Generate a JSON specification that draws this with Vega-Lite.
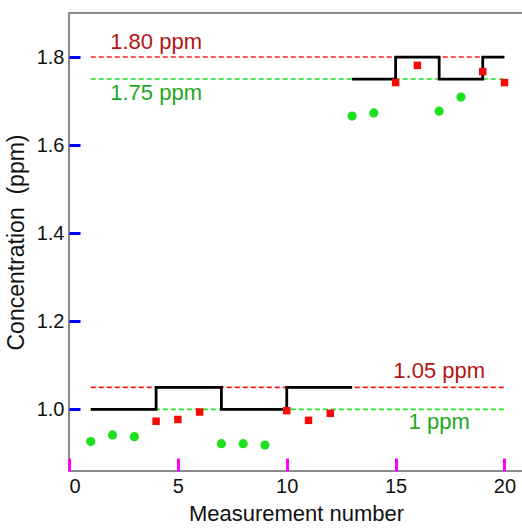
{
  "$schema": "https://vega.github.io/schema/vega-lite/v6.json",
  "autosize": "none",
  "padding": {"left": 69, "top": 13, "right": 0, "bottom": 57},
  "width": 454,
  "height": 458,
  "background": "white",
  "config": {
    "view": {"stroke": "#666666", "strokeWidth": 1.5},
    "font": "Liberation Sans",
    "axis": {"grid": false, "labelFont": "Liberation Sans", "titleFont": "Liberation Sans", "labelColor": "#111111", "titleColor": "#111111", "labelFontSize": 20, "titleFontSize": 22, "titleFontWeight": "normal"}
  },
  "datasets": {
    "points": [
      {"n": 1, "c": 0.927, "series": "a"},
      {"n": 2, "c": 0.942, "series": "a"},
      {"n": 3, "c": 0.938, "series": "a"},
      {"n": 4, "c": 0.973, "series": "b"},
      {"n": 5, "c": 0.977, "series": "b"},
      {"n": 6, "c": 0.994, "series": "b"},
      {"n": 7, "c": 0.922, "series": "a"},
      {"n": 8, "c": 0.922, "series": "a"},
      {"n": 9, "c": 0.919, "series": "a"},
      {"n": 10, "c": 0.997, "series": "b"},
      {"n": 11, "c": 0.975, "series": "b"},
      {"n": 12, "c": 0.991, "series": "b"},
      {"n": 13, "c": 1.666, "series": "a"},
      {"n": 14, "c": 1.673, "series": "a"},
      {"n": 15, "c": 1.742, "series": "b"},
      {"n": 16, "c": 1.781, "series": "b"},
      {"n": 17, "c": 1.677, "series": "a"},
      {"n": 18, "c": 1.709, "series": "a"},
      {"n": 19, "c": 1.767, "series": "b"},
      {"n": 20, "c": 1.742, "series": "b"}
    ],
    "steps": [
      {"n": 1, "c": 1.0, "seg": "low"},
      {"n": 4, "c": 1.05, "seg": "low"},
      {"n": 7, "c": 1.0, "seg": "low"},
      {"n": 10, "c": 1.05, "seg": "low"},
      {"n": 13, "c": 1.05, "seg": "low"},
      {"n": 13, "c": 1.75, "seg": "high"},
      {"n": 15, "c": 1.8, "seg": "high"},
      {"n": 17, "c": 1.75, "seg": "high"},
      {"n": 19, "c": 1.8, "seg": "high"},
      {"n": 20, "c": 1.8, "seg": "high"}
    ],
    "refs": [
      {"n": 1, "n2": 20, "c": 1.8, "kind": "upper"},
      {"n": 1, "n2": 20, "c": 1.75, "kind": "target"},
      {"n": 1, "n2": 20, "c": 1.05, "kind": "upper"},
      {"n": 1, "n2": 20, "c": 1.0, "kind": "target"}
    ],
    "labels": [
      {"n": 4.0, "c": 1.8175, "label": "1.80 ppm", "kind": "upper"},
      {"n": 4.0, "c": 1.7015, "label": "1.75 ppm", "kind": "target"},
      {"n": 17.0, "c": 1.0705, "label": "1.05 ppm", "kind": "upper"},
      {"n": 17.0, "c": 0.955, "label": "1 ppm", "kind": "target"}
    ]
  },
  "encoding": {
    "x": {"field": "n", "type": "quantitative", "scale": {"domain": [0, 20.85], "nice": false, "zero": false},
      "axis": {"orient": "bottom", "values": [0, 5, 10, 15, 20], "offset": -13, "tickSize": 13, "tickColor": "#ff00ff", "tickWidth": 3, "domainOpacity": 0, "labelPadding": 5, "title": "Measurement number", "titlePadding": 7}},
    "y": {"field": "c", "type": "quantitative", "scale": {"domain": [0.86, 1.9], "nice": false, "zero": false},
      "axis": {"orient": "left", "values": [1.0, 1.2, 1.4, 1.6, 1.8], "format": ".1f", "offset": -11, "tickSize": 11, "tickColor": "#0000ff", "tickWidth": 3, "domainOpacity": 0, "labelPadding": 5, "title": "Concentration\u00a0 (ppm)", "titlePadding": 8, "titleFontSize": 23}}
  },
  "resolve": {"scale": {"color": "independent"}},
  "layer": [
    {
      "data": {"name": "refs"},
      "mark": {"type": "rule", "strokeWidth": 1.6, "strokeDash": [5, 3]},
      "encoding": {
        "x2": {"field": "n2"},
        "color": {"field": "kind", "type": "nominal", "legend": null, "scale": {"domain": ["upper", "target"], "range": ["#ff1a1a", "#22e022"]}}
      }
    },
    {
      "data": {"name": "steps"},
      "mark": {"type": "line", "interpolate": "step-after", "strokeWidth": 2.8, "color": "#000000"},
      "encoding": {
        "detail": {"field": "seg"}
      }
    },
    {
      "data": {"name": "points"},
      "mark": {"type": "point", "filled": true, "opacity": 1},
      "encoding": {
        "shape": {"field": "series", "type": "nominal", "legend": null, "scale": {"domain": ["a", "b"], "range": ["circle", "square"]}},
        "size": {"field": "series", "type": "nominal", "legend": null, "scale": {"domain": ["a", "b"], "range": [85, 56]}},
        "color": {"field": "series", "type": "nominal", "legend": null, "scale": {"domain": ["a", "b"], "range": ["#1fe01f", "#f50a0a"]}}
      }
    },
    {
      "data": {"name": "labels"},
      "mark": {"type": "text", "fontSize": 22, "align": "center", "baseline": "alphabetic", "font": "Liberation Sans"},
      "encoding": {
        "text": {"field": "label"},
        "color": {"field": "kind", "type": "nominal", "legend": null, "scale": {"domain": ["upper", "target"], "range": ["#b31414", "#1ea81e"]}}
      }
    }
  ]
}
